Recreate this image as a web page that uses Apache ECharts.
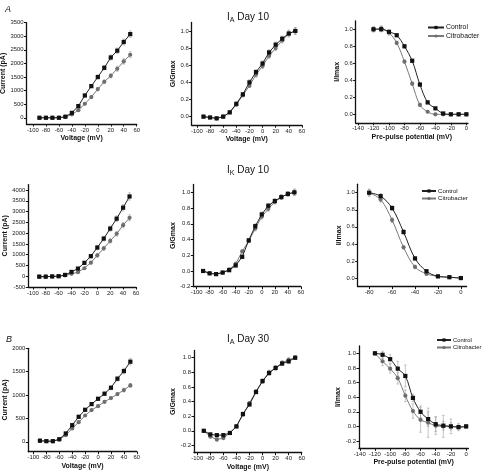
<!DOCTYPE html>
<html><head><meta charset="utf-8">
<script src="https://cdn.jsdelivr.net/npm/echarts@6/dist/echarts.min.js"></script>
<style>html,body{margin:0;padding:0;background:#fff}#c{width:482px;height:476px}</style>
</head><body><div id="c"></div>
<script>
// ---------- data ----------
const voltage = [-90,-80,-70,-60,-50,-40,-30,-20,-10,0,10,20,30,40,50];
const prePulse120 = [-120,-110,-100,-90,-80,-70,-60,-50,-40,-30,-20,-10,0];
const prePulse80 = [-80,-70,-60,-50,-40,-30,-20,-10,0];

// IA Day 10
const iaD10CurrentControl = [0,0,0,0,40,180,430,820,1165,1500,1840,2220,2470,2790,3080];
const iaD10CurrentCitro   = [0,0,0,0,30,120,280,515,760,1055,1325,1545,1805,2075,2320];
const iaD10CurrentControlErr = [5,5,5,5,10,30,40,50,60,70,80,90,100,110,120];
const iaD10CurrentCitroErr   = [5,5,5,5,10,20,30,40,50,60,70,80,90,100,110];
const iaD10GControl = [0,-0.01,-0.02,0.0,0.05,0.15,0.26,0.40,0.52,0.62,0.75,0.84,0.91,0.97,1.0];
const iaD10GCitro   = [0,-0.01,-0.02,0.0,0.05,0.14,0.25,0.36,0.49,0.59,0.71,0.80,0.89,0.97,1.0];
const iaD10GControlErr = [0.01,0.01,0.01,0.01,0.01,0.02,0.02,0.03,0.03,0.03,0.03,0.03,0.03,0.04,0.04];
const iaD10GCitroErr   = [0.01,0.01,0.01,0.01,0.01,0.02,0.02,0.02,0.03,0.03,0.03,0.03,0.03,0.03,0.04];
const iaD10InactControl = [1.0,1.0,0.97,0.93,0.80,0.63,0.35,0.14,0.07,0.01,0.0,0.0,0.0];
const iaD10InactCitro   = [1.0,1.01,0.96,0.84,0.62,0.36,0.11,0.03,0.0,0.0,0.0,0.0,0.0];
const iaD10InactControlErr = [0.03,0.03,0.02,0.02,0.02,0.02,0.02,0.02,0.01,0.01,0.01,0.01,0.01];
const iaD10InactCitroErr   = [0.03,0.03,0.03,0.02,0.02,0.02,0.02,0.01,0.01,0.01,0.01,0.01,0.01];

// IK Day 10
const ikD10CurrentControl = [-20,-20,-10,0,60,200,355,620,930,1330,1745,2210,2670,3180,3700];
const ikD10CurrentCitro   = [-20,-20,-10,0,40,110,190,370,630,970,1295,1635,1970,2370,2710];
const ikD10CurrentControlErr = [10,10,10,10,20,30,40,60,80,100,110,120,130,150,170];
const ikD10CurrentCitroErr   = [10,10,10,10,20,20,30,40,60,80,90,100,110,120,140];
const ikD10GControl = [0,-0.03,-0.04,-0.02,0.01,0.07,0.18,0.39,0.57,0.72,0.83,0.89,0.94,0.98,1.0];
const ikD10GCitro   = [0,-0.03,-0.04,-0.02,0.02,0.09,0.25,0.38,0.54,0.69,0.79,0.88,0.94,0.98,1.0];
const ikD10GControlErr = [0.01,0.01,0.01,0.01,0.01,0.02,0.02,0.02,0.03,0.03,0.03,0.03,0.03,0.03,0.04];
const ikD10GCitroErr   = [0.01,0.01,0.01,0.01,0.01,0.02,0.02,0.02,0.03,0.03,0.03,0.03,0.03,0.03,0.04];
const ikD10InactControl = [1.0,0.96,0.82,0.54,0.23,0.08,0.02,0.01,0.0];
const ikD10InactCitro   = [1.0,0.92,0.68,0.36,0.13,0.05,0.02,0.01,0.0];
const ikD10InactControlErr = [0.04,0.03,0.03,0.03,0.02,0.02,0.01,0.01,0.01];
const ikD10InactCitroErr   = [0.04,0.03,0.03,0.02,0.02,0.02,0.01,0.01,0.01];

// IA Day 30
const iaD30CurrentControl = [25,15,15,57,180,357,536,686,807,921,1029,1157,1350,1514,1714];
const iaD30CurrentCitro   = [25,15,15,50,143,286,421,564,679,764,857,936,1021,1107,1207];
const iaD30CurrentControlErr = [5,5,5,10,20,30,30,30,30,30,40,40,50,60,70];
const iaD30CurrentCitroErr   = [5,5,5,10,20,20,20,20,20,30,30,30,30,40,40];
const iaD30GControl = [0,-0.05,-0.06,-0.06,-0.03,0.06,0.23,0.36,0.53,0.68,0.79,0.86,0.92,0.95,1.0];
const iaD30GCitro   = [0,-0.08,-0.12,-0.10,-0.03,0.06,0.22,0.38,0.54,0.68,0.80,0.86,0.93,0.97,1.0];
const iaD30GControlErr = [0.01,0.02,0.02,0.02,0.01,0.01,0.02,0.02,0.02,0.03,0.03,0.03,0.03,0.03,0.02];
const iaD30GCitroErr   = [0.01,0.02,0.02,0.02,0.01,0.01,0.02,0.02,0.02,0.03,0.03,0.03,0.03,0.03,0.02];
const iaD30InactControl = [1.0,0.98,0.92,0.79,0.69,0.39,0.20,0.10,0.03,0.01,0.0,-0.01,0.0];
const iaD30InactCitro   = [1.0,0.89,0.79,0.66,0.42,0.21,0.09,0.05,0.01,0.0,0.0,-0.01,0.0];
const iaD30InactControlErr = [0.02,0.05,0.06,0.10,0.15,0.05,0.08,0.10,0.10,0.06,0.05,0.03,0.02];
const iaD30InactCitroErr   = [0.02,0.06,0.06,0.08,0.08,0.10,0.17,0.20,0.12,0.15,0.10,0.05,0.02];

// tick labels
const voltTicks = [-100,-80,-60,-40,-20,0,20,40,60];
const pre140Ticks = [-140,-120,-100,-80,-60,-40,-20,0];
const pre80Ticks = [-80,-60,-40,-20,0];
const curTicksA10 = [0,500,1000,1500,2000,2500,3000,3500];
const curTicksK10 = [-500,0,500,1000,1500,2000,2500,3000,3500,4000];
const curTicksA30 = [0,500,1000,1500,2000];
const normTicks0 = [0,0.2,0.4,0.6,0.8,1.0];
const normTicksNeg = [-0.2,0,0.2,0.4,0.6,0.8,1.0];

const titles = ['A', 'B'];
const seriesNames = ['Control', 'Citrobacter'];

// ---------- layout ----------
const FONT = 'Liberation Sans, Arial, sans-serif';
const panels = [
  {g:[26.5,22.7,110.2,101.3], xr:[-110,60], yr:[-230,3500], xt:voltTicks, yt:curTicksA10, x:voltage, c:iaD10CurrentControl, t:iaD10CurrentCitro, ce:iaD10CurrentControlErr, te:iaD10CurrentCitroErr, xn:'Voltage (mV)', yn:'Current (pA)', yg:16.5, dec:false, smooth:false},
  {g:[191.7,22.4,110.2,102.8], xr:[-108,60], yr:[-0.1,1.1], xt:voltTicks, yt:normTicks0, x:voltage, c:iaD10GControl, t:iaD10GCitro, ce:iaD10GControlErr, te:iaD10GCitroErr, xn:'Voltage (mV)', yn:'G/Gmax', yg:11, dec:true, smooth:false},
  {g:[355.7,20.8,112.2,102], xr:[-143,2], yr:[-0.1,1.1], xt:pre140Ticks, yt:normTicks0, x:prePulse120, c:iaD10InactControl, t:iaD10InactCitro, ce:iaD10InactControlErr, te:iaD10InactCitroErr, xn:'Pre-pulse potential (mV)', yn:'I/Imax', yg:12, dec:true, smooth:true, legend:[427,24,6.8,16]},
  {g:[28.3,184.6,107.7,102.4], xr:[-107,60], yr:[-500,4250], xt:voltTicks, yt:curTicksK10, x:voltage, c:ikD10CurrentControl, t:ikD10CurrentCitro, ce:ikD10CurrentControlErr, te:ikD10CurrentCitroErr, xn:'', yn:'Current (pA)', yg:18, dec:false, smooth:false},
  {g:[193.3,184.5,107.6,102.2], xr:[-105,60], yr:[-0.2,1.1], xt:voltTicks, yt:normTicksNeg, x:voltage, c:ikD10GControl, t:ikD10GCitro, ce:ikD10GControlErr, te:ikD10GCitroErr, xn:'', yn:'G/Gmax', yg:11, dec:true, smooth:false},
  {g:[357.7,184.2,108.9,102.4], xr:[-90,5], yr:[-0.1,1.1], xt:pre80Ticks, yt:normTicks0, x:prePulse80, c:ikD10InactControl, t:ikD10InactCitro, ce:ikD10InactControlErr, te:ikD10InactCitroErr, xn:'', yn:'I/Imax', yg:14.5, dec:true, smooth:true, legend:[421,188,6.1,14]},
  {g:[28.3,348.3,108.5,103.4], xr:[-108,60], yr:[-210,2000], xt:voltTicks, yt:curTicksA30, x:voltage, c:iaD30CurrentControl, t:iaD30CurrentCitro, ce:iaD30CurrentControlErr, te:iaD30CurrentCitroErr, xn:'Voltage (mV)', yn:'Current (pA)', yg:18, dec:false, smooth:false},
  {g:[194,350.4,107.7,102.3], xr:[-105,60], yr:[-0.3,1.1], xt:voltTicks, yt:normTicksNeg, x:voltage, c:iaD30GControl, t:iaD30GCitro, ce:iaD30GControlErr, te:iaD30GCitroErr, xn:'Voltage (mV)', yn:'G/Gmax', yg:11.5, dec:true, smooth:false},
  {g:[359,346,109.4,102.3], xr:[-141,3], yr:[-0.3,1.1], xt:pre140Ticks, yt:normTicksNeg, x:prePulse120, c:iaD30InactControl, t:iaD30InactCitro, ce:iaD30InactControlErr, te:iaD30InactCitroErr, xn:'Pre-pulse potential (mV)', yn:'I/Imax', yg:15, dec:true, smooth:true, legend:[436,337,5.8,14]}
];

const AX = '#111';
const grid=[], xAxis=[], yAxis=[], series=[], legend=[];
function errRender(color){
  return function(params, api){
    const x=api.value(0), y=api.value(1), e=api.value(2);
    const a=api.coord([x,y+e]), b=api.coord([x,y-e]);
    const w=1.3, st={stroke:color,lineWidth:0.6};
    return {type:'group', children:[
      {type:'line', shape:{x1:a[0],y1:a[1],x2:b[0],y2:b[1]}, style:st},
      {type:'line', shape:{x1:a[0]-w,y1:a[1],x2:a[0]+w,y2:a[1]}, style:st},
      {type:'line', shape:{x1:b[0]-w,y1:b[1],x2:b[0]+w,y2:b[1]}, style:st}
    ]};
  };
}
panels.forEach((p,i)=>{
  grid.push({left:p.g[0], top:p.g[1], width:p.g[2], height:p.g[3], containLabel:false, outerBoundsMode:'none'});
  xAxis.push({type:'value', gridIndex:i, min:p.xr[0], max:p.xr[1], splitLine:{show:false},
    axisLine:{onZero:false, lineStyle:{color:AX,width:1.3}},
    axisTick:{customValues:p.xt, length:2.5, lineStyle:{color:AX,width:1}},
    axisLabel:{customValues:p.xt, margin:3, fontSize:5.9, color:'#1a1a1a', fontFamily:FONT},
    name:p.xn, nameLocation:'middle', nameGap:10.5, nameTextStyle:{fontSize:7, fontWeight:'bold', color:'#111', fontFamily:FONT}});
  yAxis.push({type:'value', gridIndex:i, min:p.yr[0], max:p.yr[1], splitLine:{show:false},
    axisLine:{onZero:false, lineStyle:{color:AX,width:1.3}},
    axisTick:{customValues:p.yt, length:2.5, lineStyle:{color:AX,width:1}},
    axisLabel:{customValues:p.yt, margin:3, fontSize:5.9, color:'#1a1a1a', fontFamily:FONT,
      formatter: p.dec ? (v)=>v.toFixed(1) : (v)=>String(Math.round(v))},
    name:p.yn, nameLocation:'middle', nameGap:p.yg, nameTextStyle:{fontSize:7, fontWeight:'bold', color:'#111', fontFamily:FONT}});
  const ctl = p.x.map((v,k)=>[v,p.c[k]]);
  const cit = p.x.map((v,k)=>[v,p.t[k]]);
  series.push({type:'custom', xAxisIndex:i, yAxisIndex:i, renderItem:errRender('#a0a0a0'), data:p.x.map((v,k)=>[v,p.t[k],p.te[k]]), z:1, silent:true});
  series.push({type:'custom', xAxisIndex:i, yAxisIndex:i, renderItem:errRender('#a0a0a0'), data:p.x.map((v,k)=>[v,p.c[k],p.ce[k]]), z:1, silent:true});
  series.push({name:seriesNames[1], type:'line', xAxisIndex:i, yAxisIndex:i, data:cit, smooth:p.smooth?0.35:false, symbol:'circle', symbolSize:4.2,
    itemStyle:{color:'#6e6e6e'}, lineStyle:{color:'#7a7a7a', width:1}, z:3, animation:false});
  series.push({name:seriesNames[0], type:'line', xAxisIndex:i, yAxisIndex:i, data:ctl, smooth:p.smooth?0.35:false, symbol:'rect', symbolSize:4.2,
    itemStyle:{color:'#111'}, lineStyle:{color:'#222', width:1}, z:4, animation:false});
  if(p.legend){
    legend.push({left:p.legend[0], top:p.legend[1], orient:'vertical', itemGap:1.5, itemWidth:p.legend[3], itemHeight:4,
      data:seriesNames, selectedMode:false, textStyle:{fontSize:p.legend[2], color:'#111', fontFamily:FONT, padding:[0,0,0,-3]}, padding:0});
  }
});

const sub = {sub:{fontSize:7, fontWeight:'normal', verticalAlign:'bottom', padding:[6,0,0,0], fontFamily:FONT, color:'#111'}, n:{fontSize:10, fontWeight:'normal', fontFamily:FONT, color:'#111'}};
const option = {
  animation:false,
  backgroundColor:'#fff',
  title:[
    {text:titles[0], left:0, top:0, textStyle:{fontSize:9, fontStyle:'italic', fontWeight:'normal', color:'#111', fontFamily:FONT}},
    {text:titles[1], left:1, top:330, textStyle:{fontSize:9, fontStyle:'italic', fontWeight:'normal', color:'#111', fontFamily:FONT}},
    {text:'{n|I}{sub|A}{n| Day 10}', left:243, top:6, textAlign:'center', textStyle:{rich:sub}},
    {text:'{n|I}{sub|K}{n| Day 10}', left:243, top:159, textAlign:'center', textStyle:{rich:sub}},
    {text:'{n|I}{sub|A}{n| Day 30}', left:243, top:328, textAlign:'center', textStyle:{rich:sub}}
  ],
  grid, xAxis, yAxis, series, legend
};
const chart = echarts.init(document.getElementById('c'), null, {renderer:'canvas'});
chart.setOption(option);
</script></body></html>
